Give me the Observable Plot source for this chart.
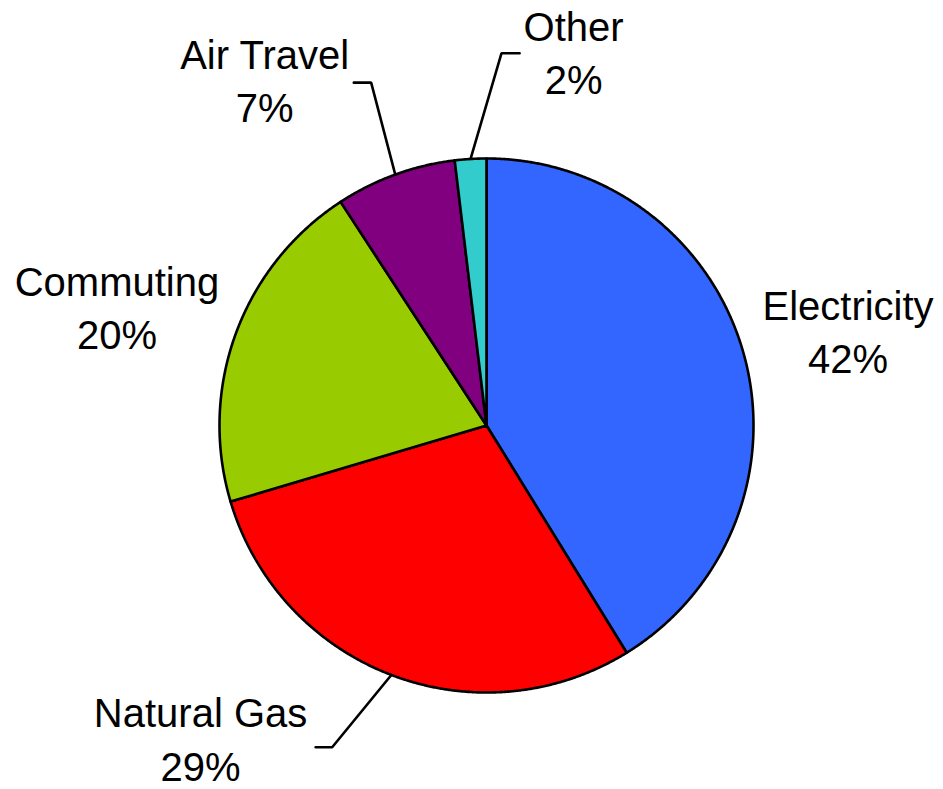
<!DOCTYPE html>
<html>
<head>
<meta charset="utf-8">
<script src="https://cdn.jsdelivr.net/npm/d3@7"></script>
<script src="https://cdn.jsdelivr.net/npm/@observablehq/plot@0.6"></script>
<style>
  html, body { margin: 0; padding: 0; background: #fff; }
  #chart { width: 943px; height: 789px; }
</style>
</head>
<body>
<div id="chart"></div>
<script>
// ---- data ----
const categories = ["Electricity", "Natural Gas", "Commuting", "Air Travel", "Other"];
const values = [41.2, 29.2, 20.4, 7.3, 1.9];
const pctLabels = ["42%", "29%", "20%", "7%", "2%"];
const colors = ["#3366FF", "#FF0000", "#99CC00", "#800080", "#33CCCC"];

// ---- layout (in pie-radius units, relative to the pie centre) ----
const labelPos = {
  "Electricity": {x: 1.354, y: 0.195},
  "Natural Gas": {x: -1.071, y: -1.330},
  "Commuting":   {x: -1.384, y: 0.285},
  "Air Travel":  {x: -0.831, y: 1.136},
  "Other":       {x: 0.326, y: 1.242}
};
const leaders = {
  "Natural Gas": [{x: -0.578, y: -1.205}, {x: -0.640, y: -1.205}],
  "Air Travel":  [{x: -0.432, y: 1.284}, {x: -0.497, y: 1.284}],
  "Other":       [{x: 0.056, y: 1.394}, {x: 0.124, y: 1.394}]
};

const W = 943, H = 789, R = 267, CX = 486, CY = 425;

// pie angles (clockwise from 12 o'clock)
const total = d3.sum(values);
let acc = 0;
const slices = categories.map((c, i) => {
  const a0 = acc / total * 2 * Math.PI;
  acc += values[i];
  const a1 = acc / total * 2 * Math.PI;
  return {cat: c, a0, a1, mid: (a0 + a1) / 2};
});

// polygon points for each slice
const slicePts = [];
for (const s of slices) {
  slicePts.push({cat: s.cat, x: 0, y: 0});
  const n = Math.max(2, Math.ceil((s.a1 - s.a0) / (Math.PI / 720)));
  for (let k = 0; k <= n; k++) {
    const a = s.a0 + (s.a1 - s.a0) * k / n;
    slicePts.push({cat: s.cat, x: Math.sin(a), y: Math.cos(a)});
  }
}

// leader lines
const leaderPts = [];
for (const s of slices) {
  if (!leaders[s.cat]) continue;
  leaderPts.push({cat: s.cat, x: Math.sin(s.mid), y: Math.cos(s.mid)});
  for (const p of leaders[s.cat]) leaderPts.push({cat: s.cat, x: p.x, y: p.y});
}

const labels = categories.map((c, i) => ({
  cat: c, text: c + "\n" + pctLabels[i], x: labelPos[c].x, y: labelPos[c].y
}));

const chart = Plot.plot({
  width: W,
  height: H,
  margin: 0,
  style: {fontFamily: "'Liberation Sans', Arial, sans-serif", background: "#fff"},
  x: {domain: [-CX / R, (W - CX) / R], axis: null},
  y: {domain: [(CY - H) / R, CY / R], axis: null},
  color: {domain: categories, range: colors, type: "ordinal"},
  marks: [
    Plot.line(slicePts, {
      x: "x", y: "y", z: "cat", fill: "cat",
      stroke: "#000", strokeWidth: 2.6, strokeLinejoin: "round",
      curve: "linear-closed"
    }),
    Plot.line(leaderPts, {
      x: "x", y: "y", z: "cat", stroke: "#000", strokeWidth: 2.6,
      strokeLinejoin: "miter"
    }),
    Plot.text(labels, {
      x: "x", y: "y", text: "text",
      fontSize: 40, fill: "#000", textAnchor: "middle",
      lineAnchor: "bottom", lineHeight: 1.33
    })
  ]
});
document.getElementById("chart").appendChild(chart);
</script>
</body>
</html>
